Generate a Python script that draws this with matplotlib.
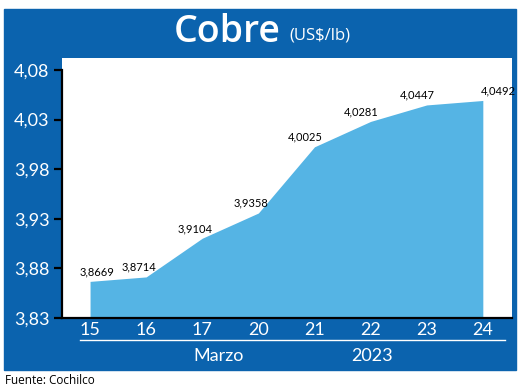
import matplotlib.pyplot as plt
from matplotlib.patches import Rectangle
from matplotlib.lines import Line2D

days = ["15", "16", "17", "20", "21", "22", "23", "24"]
prices = [3.8669, 3.8714, 3.9104, 3.9358, 4.0025, 4.0281, 4.0447, 4.0492]
yticks = [3.83, 3.88, 3.93, 3.98, 4.03, 4.08]

blue = "#0b63ae"
area = "#55b4e4"
narrow = ["Lato", "DejaVu Sans"]

W, H = 520, 392
fig = plt.figure(figsize=(W / 100, H / 100), dpi=100)

def fx(px):
    return px / W

def fy(py):
    return 1 - py / H

# blue frame behind everything
fig.patches.append(Rectangle((fx(4), fy(370)), fx(512), (370 - 9) / H,
                             transform=fig.transFigure, color=blue, zorder=-10))

ax = fig.add_axes([fx(62), fy(318), fx(450), (318 - 58) / H])
ax.set_zorder(1)
ax.set_facecolor("white")
x = list(range(len(days)))
ax.fill_between(x, prices, 3.83, color=area, lw=0)
ax.set_xlim(-0.5, 7.52)
ax.set_ylim(3.83, 4.092)

for s in ["top", "right"]:
    ax.spines[s].set_visible(False)
ax.spines["left"].set_bounds(3.83, 4.08)
ax.spines["left"].set_linewidth(1.6)
ax.spines["bottom"].set_linewidth(1.6)

ax.set_yticks(yticks)
ax.set_yticklabels([f"{v:.2f}".replace(".", ",") for v in yticks],
                   color="white", fontsize=13, family=narrow)
ax.tick_params(axis="y", length=6, width=1.6, pad=3)
ax.set_xticks(x)
ax.set_xticklabels(days, color="white", fontsize=13, family=narrow)
ax.tick_params(axis="x", length=0, pad=3)

offsets = [5, -5, -5, -5, -7, -7, -7, 11]
for i, (v, dx) in enumerate(zip(prices, offsets)):
    ax.annotate(f"{v:.4f}".replace(".", ","), (i, v), xytext=(dx, 7),
                textcoords="offset points", ha="center", va="center",
                fontsize=8, family=narrow, color="black")

fig.text(fx(281), fy(32), "Cobre", color="white", fontsize=27, fontweight="semibold",
         ha="right", va="center", family=["Open Sans", "DejaVu Sans"])
fig.text(fx(289), fy(35), "(US$/lb)", color="white", fontsize=12,
         ha="left", va="center", family=["Open Sans", "DejaVu Sans"])

fig.lines.append(Line2D([fx(80), fx(505)], [fy(340), fy(340)],
                        transform=fig.transFigure, color="white", lw=1))
fig.text(fx(219), fy(356), "Marzo", color="white", fontsize=13, ha="center",
         va="center", family=narrow)
fig.text(fx(372), fy(356), "2023", color="white", fontsize=13, ha="center",
         va="center", family=narrow)
fig.text(fx(5), fy(381), "Fuente: Cochilco", color="black", fontsize=8.5,
         ha="left", va="center", family=["Open Sans", "DejaVu Sans"])

fig.savefig("out.png", dpi=100)
